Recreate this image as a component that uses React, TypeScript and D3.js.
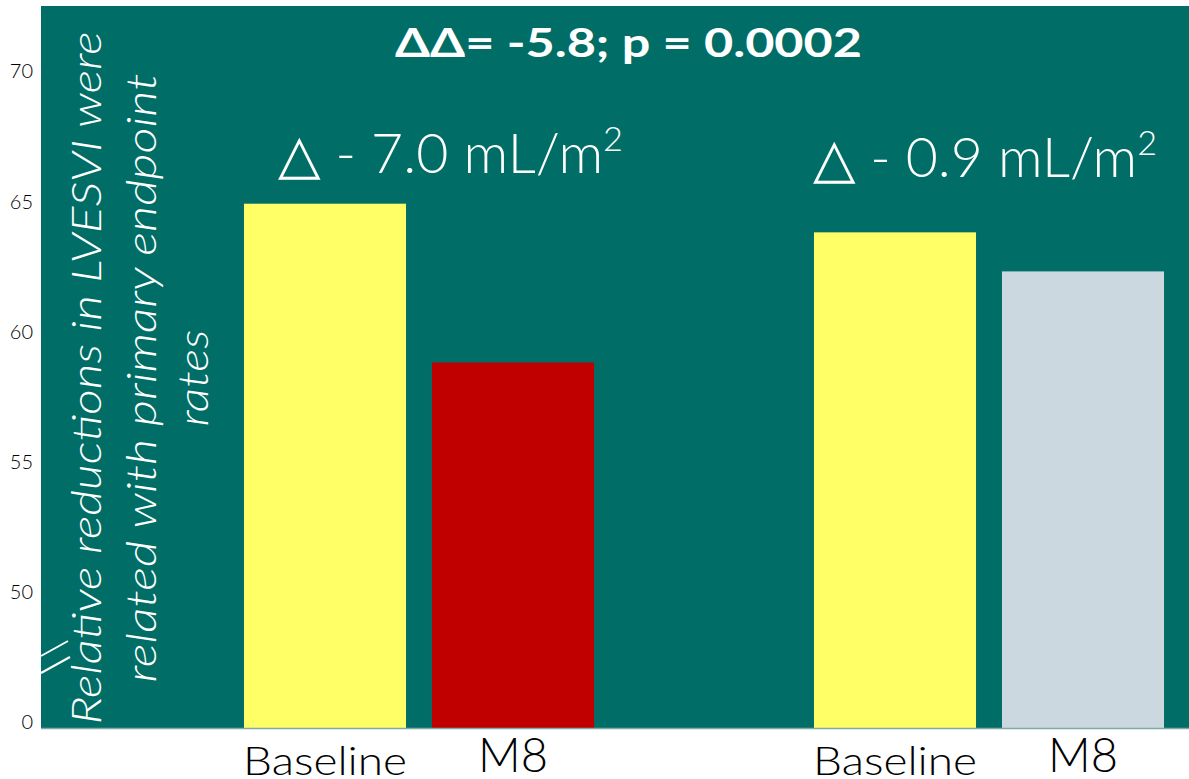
import React from "react";
import * as d3 from "d3";

const groups = ["Group 1", "Group 2"];
const series = ["Baseline", "M8"];
const baselineValues = [65.0, 63.9];
const m8Values = [58.9, 62.4];
const m8Colors = ["#C00000", "#CBD8E0"];
const baselineColor = "#FFFF66";
const deltaLabels = ["- 7.0 mL/m", "- 0.9 mL/m"];
const titleText = "ΔΔ= -5.8; p = 0.0002";
const tickValues = [45, 50, 55, 60, 65, 70];
const tickLabels = ["0", "50", "55", "60", "65", "70"];
const yTitleLines = [
  "Relative reductions in LVESVI were",
  "related with primary endpoint",
  "rates",
];

const W = 1189;
const H = 779;
const plotLeft = 41;
const plotRight = 1189;
const plotTop = 6;
const plotBottom = 728;
const teal = "#006E66";

export default function App() {
  const y = d3.scaleLinear().domain([45, 70]).range([724.5, 73.5]);
  const x0 = d3.scaleBand<string>().domain(groups).range([134, 1274]);
  const x1 = d3
    .scaleBand<string>()
    .domain(series)
    .range([0, x0.bandwidth()])
    .paddingInner(0.138)
    .paddingOuter(0.585);

  const bars: { x: number; w: number; v: number; c: string; label: string }[] = [];
  groups.forEach((g, i) => {
    bars.push({ x: (x0(g) as number) + (x1("Baseline") as number), w: x1.bandwidth(), v: baselineValues[i], c: baselineColor, label: "Baseline" });
    bars.push({ x: (x0(g) as number) + (x1("M8") as number), w: x1.bandwidth(), v: m8Values[i], c: m8Colors[i], label: "M8" });
  });

  const deltaPos = [
    { x: 278, y: 173, len: 345 },
    { x: 813, y: 177, len: 344 },
  ];
  const yTitleX = [101, 156, 208];
  const yTitleLen = [693, 609, 97];
  const light = "Lato, 'Open Sans', sans-serif";

  return (
    <svg width={W} height={H} style={{ position: "absolute", left: 0, top: 0, background: "#fff" }}>
      <rect x={plotLeft} y={plotTop} width={plotRight - plotLeft} height={plotBottom - plotTop} fill={teal} />
      {bars.map((b, i) => (
        <rect key={i} x={b.x} y={y(b.v)} width={b.w} height={plotBottom - y(b.v)} fill={b.c} />
      ))}
      <line x1={plotLeft} x2={plotRight} y1={plotBottom + 0.5} y2={plotBottom + 0.5} stroke="#7FA9A5" strokeWidth={1.5} />
      {/* axis break marks */}
      <line x1={plotLeft} y1={656} x2={68} y2={641} stroke="#fff" strokeWidth={2} />
      <line x1={plotLeft} y1={673} x2={70} y2={657} stroke="#fff" strokeWidth={2} />
      {tickValues.map((t, i) => (
        <text key={t} x={33} y={y(t)} textAnchor="end" dominantBaseline="middle" fontFamily={light} fontWeight={300} fontSize={20} fill="#000">
          {tickLabels[i]}
        </text>
      ))}
      <text x={395} y={57} textLength={467} lengthAdjust="spacingAndGlyphs" fontFamily="Lato, 'Liberation Sans', sans-serif" fontWeight={700} fontSize={40} fill="#fff">
        {titleText}
      </text>
      {deltaLabels.map((d, i) => (
        <text key={i} x={deltaPos[i].x} y={deltaPos[i].y} textLength={deltaPos[i].len} lengthAdjust="spacingAndGlyphs" fontFamily={light} fontWeight={300} fontSize={55} fill="#fff">
          <tspan fontFamily="'DejaVu Sans', sans-serif" fontWeight={300}>△</tspan>
          <tspan>{" " + d}</tspan>
          <tspan fontSize={34} dy={-22}>2</tspan>
        </text>
      ))}
      {yTitleLines.map((l, i) => (
        <text key={i} transform={`translate(${yTitleX[i]},378) rotate(-90)`} textAnchor="middle" textLength={yTitleLen[i]} lengthAdjust="spacingAndGlyphs" fontFamily={light} fontWeight={300} fontStyle="italic" fontSize={42} fill="#fff">
          {l}
        </text>
      ))}
      {bars.map((b, i) => (
        <text key={"l" + i} x={b.x + b.w / 2} y={b.label === "M8" ? 772 : 775} textAnchor="middle" textLength={b.label === "M8" ? 70 : 164} lengthAdjust="spacingAndGlyphs" fontFamily={light} fontWeight={300} fontSize={b.label === "M8" ? 47 : 40} fill="#000">
          {b.label}
        </text>
      ))}
    </svg>
  );
}
